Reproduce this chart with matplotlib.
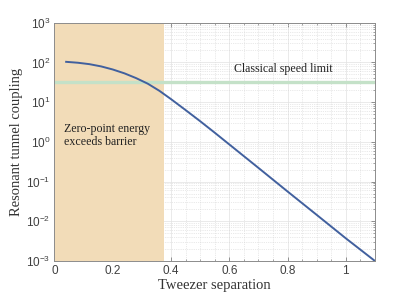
import matplotlib
matplotlib.use("Agg")
import matplotlib.pyplot as plt
from matplotlib.ticker import MultipleLocator, LogLocator, NullFormatter, FuncFormatter
import numpy as np

# values
separation = [0.04, 0.08, 0.12, 0.16, 0.20, 0.24, 0.28, 0.32, 0.36, 0.40,
              0.45, 0.50, 0.55, 0.60, 0.70, 0.80, 0.90, 1.00, 1.10]
coupling = [103.5, 98.2, 90.4, 79.4, 66.4, 53.1, 40.3, 29.2, 19.3, 11.9,
            6.31, 3.31, 1.70, 0.861, 0.221, 0.0562, 0.0145, 0.00372, 0.001]
speed_limit = 32.7
zero_point_edge = 0.375

fig = plt.figure(figsize=(4.15, 2.96), dpi=100)
ax = fig.add_axes([0.1313, 0.1182, 0.7723, 0.8051])

ax.axvspan(0, zero_point_edge, color="#F2DCB8", lw=0, zorder=1)
ax.axhline(speed_limit, color="#C4E1C8", lw=2.4, zorder=2)
ax.plot(separation, coupling, color="#41609E", lw=1.4, zorder=3)

ax.set_yscale("log")
ax.set_xlim(0, 1.1)
ax.set_ylim(1e-3, 1e3)

ax.xaxis.set_major_locator(MultipleLocator(0.2))
ax.xaxis.set_minor_locator(MultipleLocator(0.05))
ax.xaxis.set_major_formatter(FuncFormatter(lambda v, p: "%g" % round(v, 2)))
ax.yaxis.set_major_locator(LogLocator(base=10, numticks=10))
ax.yaxis.set_minor_locator(LogLocator(base=10, subs=np.arange(2, 10), numticks=20))
ax.yaxis.set_minor_formatter(NullFormatter())

ax.grid(which="major", ls="-", lw=0.5, c="#e2e2e2", zorder=0)
ax.grid(which="minor", ls=":", lw=0.5, c="#d4d4d4", zorder=0)
ax.set_axisbelow(True)

ax.tick_params(which="both", direction="in", top=True, right=True,
               colors="#808080", labelcolor="#404040", labelsize=8.5)
ax.tick_params(which="major", length=3, width=0.6, pad=3)
ax.tick_params(which="minor", length=1.5, width=0.5)
for lab in ax.get_xticklabels() + ax.get_yticklabels():
    lab.set_family("Liberation Sans")
for s in ax.spines.values():
    s.set_color("#8c8c8c")
    s.set_linewidth(0.7)
    s.set_zorder(4)

serif = "Liberation Serif"
ax.set_xlabel("Tweezer separation", family=serif, fontsize=10.5, color="#333333", labelpad=1)
ax.set_ylabel("Resonant tunnel coupling", family=serif, fontsize=10.5, color="#333333", labelpad=2)

ax.text(0.787, 67, "Classical speed limit", family=serif, fontsize=8.6,
        color="#222222", ha="center", va="center", zorder=5)
ax.text(0.033, 1.48, "Zero-point energy\nexceeds barrier", family=serif, fontsize=8.6,
        color="#222222", ha="left", va="center", linespacing=1.1, zorder=5)

fig.savefig("out.png", dpi=100)
